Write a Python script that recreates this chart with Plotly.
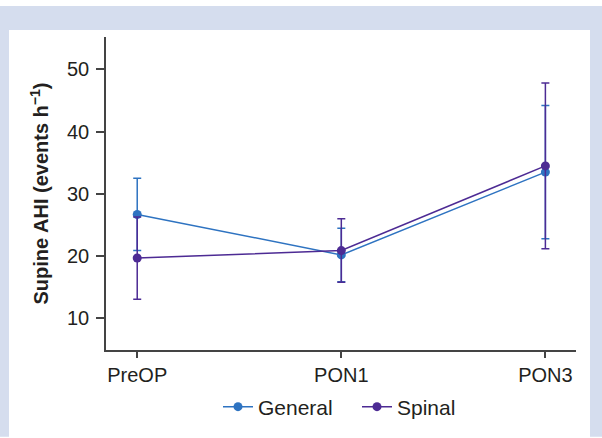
import plotly.graph_objects as go

# ---- data ----
categories = ["PreOP", "PON1", "PON3"]
general_mean = [26.7, 20.2, 33.5]
general_err = [5.8, 4.3, 10.7]
spinal_mean = [19.7, 20.9, 34.5]
spinal_err = [6.6, 5.1, 13.3]
y_ticks = [10, 20, 30, 40, 50]

# ---- layout constants (pixels) ----
W_FIG, H_FIG = 602, 438
L, R, T, B = 106, 26, 37, 87
PW, PH = W_FIG - L - R, H_FIG - T - B

def px_x(px):
    return (px - L) / PW

def px_y(py):
    return (H_FIG - B - py) / PH

BLUE = "#2e73c1"
PURPLE = "#4d2b94"
BORDER = "#d5ddee"
FONT = "Liberation Sans, Arial, sans-serif"
TXT = "#231f20"

xs = list(range(len(categories)))

fig = go.Figure()
fig.add_trace(go.Scatter(
    x=xs, y=general_mean, name="General", mode="lines+markers",
    line=dict(color=BLUE, width=1.5),
    marker=dict(color=BLUE, size=9),
    error_y=dict(type="data", array=general_err, color=BLUE, thickness=1.5, width=4),
))
fig.add_trace(go.Scatter(
    x=xs, y=spinal_mean, name="Spinal", mode="lines+markers",
    line=dict(color=PURPLE, width=1.5),
    marker=dict(color=PURPLE, size=9),
    error_y=dict(type="data", array=spinal_err, color=PURPLE, thickness=1.5, width=4),
))

shapes = [
    dict(type="rect", xref="paper", yref="paper", x0=px_x(0), x1=px_x(W_FIG),
         y0=px_y(30), y1=px_y(6), fillcolor=BORDER, line_width=0, layer="below"),
    dict(type="rect", xref="paper", yref="paper", x0=px_x(0), x1=px_x(9),
         y0=px_y(H_FIG), y1=px_y(6), fillcolor=BORDER, line_width=0, layer="below"),
    dict(type="rect", xref="paper", yref="paper", x0=px_x(590), x1=px_x(W_FIG),
         y0=px_y(H_FIG), y1=px_y(6), fillcolor=BORDER, line_width=0, layer="below"),
]

fig.update_layout(
    width=W_FIG, height=H_FIG,
    margin=dict(l=L, r=R, t=T, b=B),
    paper_bgcolor="white", plot_bgcolor="white",
    font=dict(family=FONT, size=20, color=TXT),
    shapes=shapes,
    showlegend=True,
    legend=dict(orientation="h", x=px_x(218), xanchor="left", y=px_y(407), yanchor="middle",
                font=dict(size=21, color=TXT), bgcolor="rgba(0,0,0,0)",
                entrywidth=94, entrywidthmode="pixels"),
    xaxis=dict(
        range=[-0.153, 2.15], tickvals=xs, ticktext=categories,
        showline=True, linecolor="#444", linewidth=1.5,
        ticks="outside", ticklen=6, tickwidth=1.5, tickcolor="#444",
        showgrid=False, zeroline=False, tickfont=dict(size=20, color=TXT),
    ),
    yaxis=dict(
        range=[4.93, 55.2], tickvals=y_ticks,
        showline=True, linecolor="#444", linewidth=1.5,
        ticks="outside", ticklen=8, tickwidth=1.5, tickcolor="#444",
        ticklabelstandoff=3,
        showgrid=False, zeroline=False, tickfont=dict(size=20, color=TXT),
        title=dict(text="<b>Supine AHI (events h<sup>−1</sup>)</b>",
                   font=dict(size=20, color=TXT), standoff=13),
    ),
)

fig.write_html("out.html", config={"displayModeBar": False},
               post_script="document.body.style.margin='0';")
